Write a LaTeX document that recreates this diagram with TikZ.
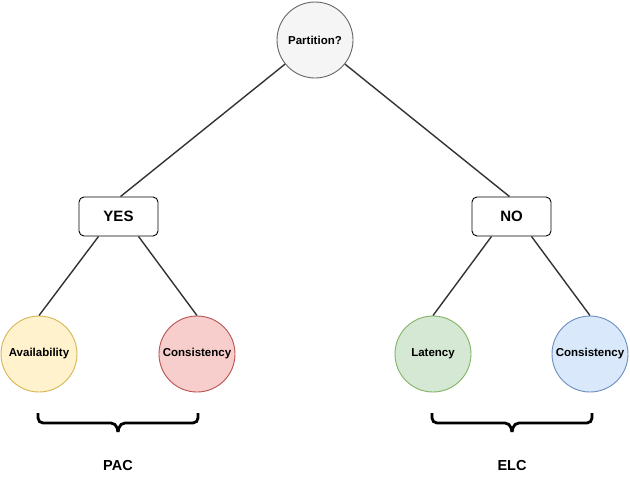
\documentclass[tikz,border=0pt]{standalone}
\usepackage{fontspec}
\setmainfont{Liberation Sans}
\definecolor{pfill}{HTML}{F5F5F5}\definecolor{pdraw}{HTML}{666666}
\definecolor{yfill}{HTML}{FFF2CC}\definecolor{ydraw}{HTML}{D6B656}
\definecolor{rfill}{HTML}{F8CECC}\definecolor{rdraw}{HTML}{B85450}
\definecolor{gfill}{HTML}{D5E8D4}\definecolor{gdraw}{HTML}{82B366}
\definecolor{bfill}{HTML}{DAE8FC}\definecolor{bdraw}{HTML}{6C8EBF}
\definecolor{edgec}{HTML}{333333}
\tikzset{
  circ/.style={circle,minimum size=76pt,inner sep=0pt,line width=0.9pt,font=\fontsize{11.5}{13}\selectfont\bfseries},
  choice/.style={draw=black,rounded corners=5pt,minimum width=79pt,minimum height=39pt,inner sep=0pt,line width=0.9pt,font=\fontsize{15}{17}\selectfont\bfseries},
  edge/.style={draw=edgec,line width=1.4pt},
  bracec/.style={draw=black,line width=2.8pt,rounded corners=5pt},
  grp/.style={font=\fontsize{14.5}{17}\selectfont\bfseries}
}
\begin{document}
\begin{tikzpicture}[x=1pt,y=-1pt]
\useasboundingbox[fill=white] (0,0) rectangle (630,485);
\node[circ,fill=pfill,draw=pdraw] (P) at (315,40) {Partition?};
\node[choice] (Y) at (118.5,216.5) {YES};
\node[choice] (N) at (511.5,216.5) {NO};
\node[circ,fill=yfill,draw=ydraw] (A) at (39,354) {Availability};
\node[circ,fill=rfill,draw=rdraw] (C1) at (197,354) {Consistency};
\node[circ,fill=gfill,draw=gdraw] (L) at (433,354) {Latency};
\node[circ,fill=bfill,draw=bdraw] (C2) at (590,354) {Consistency};
\path[edge] (P) -- ([xshift=2pt]Y.north);
\path[edge] (P) -- ([xshift=-2pt]N.north);
\path[edge] ([xshift=-20pt]Y.south) -- (A.north);
\path[edge] ([xshift=20pt]Y.south) -- (C1.north);
\path[edge] ([xshift=-20pt]N.south) -- (L.north);
\path[edge] ([xshift=20pt]N.south) -- (C2.north);
\coordinate (b1) at (118,423);
\coordinate (b2) at (512,423);
\path[bracec] ([xshift=-80pt,yshift=10pt]b1) -- ([xshift=-80pt]b1) -- ([xshift=-2pt]b1) -- ([yshift=-9pt]b1);
\path[bracec] ([xshift=80pt,yshift=10pt]b1) -- ([xshift=80pt]b1) -- ([xshift=2pt]b1) -- ([yshift=-9pt]b1);
\path[bracec] ([xshift=-80pt,yshift=10pt]b2) -- ([xshift=-80pt]b2) -- ([xshift=-2pt]b2) -- ([yshift=-9pt]b2);
\path[bracec] ([xshift=80pt,yshift=10pt]b2) -- ([xshift=80pt]b2) -- ([xshift=2pt]b2) -- ([yshift=-9pt]b2);
\node[grp] (pac) at (118,466) {PAC};
\node[grp] (elc) at (512,466) {ELC};
\end{tikzpicture}
\end{document}
